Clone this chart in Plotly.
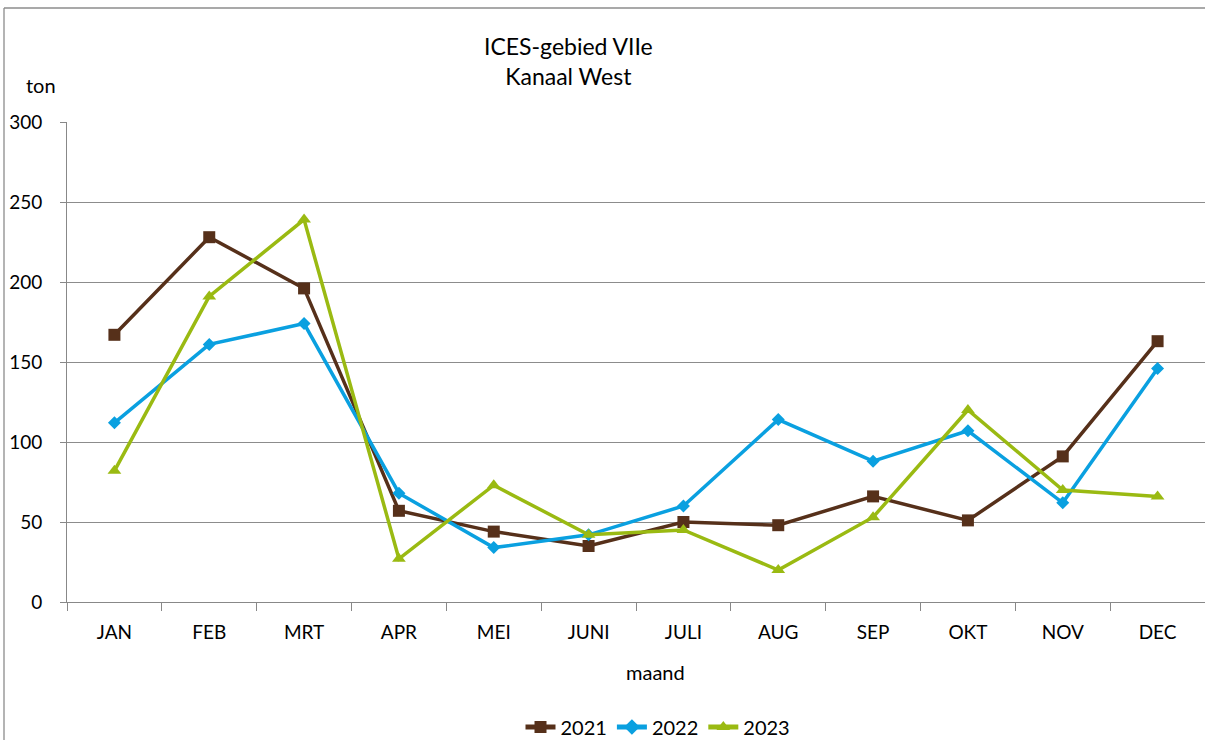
import plotly.graph_objects as go

months = ["JAN", "FEB", "MRT", "APR", "MEI", "JUNI", "JULI", "AUG", "SEP", "OKT", "NOV", "DEC"]
v2021 = [167, 228, 196, 57, 44, 35, 50, 48, 66, 51, 91, 163]
v2022 = [112, 161, 174, 68, 34, 42, 60, 114, 88, 107, 62, 146]
v2023 = [82, 191, 239, 27, 73, 42, 45, 20, 53, 120, 70, 66]
y_ticks = [0, 50, 100, 150, 200, 250, 300]

FONT = "Lato"
W, H = 1205, 740
pl, pr, pt, pb = 67, 0, 122, 138
pw, ph = W - pl - pr, H - pt - pb


def px(x):
    return (x - pl) / pw


def py(y):
    return (pt + ph - y) / ph


fig = go.Figure()
series = [
    ("2021", v2021, "#56301a", "square", 12),
    ("2022", v2022, "#0aa0e0", "diamond", 10),
    ("2023", v2023, "#9aba12", "triangle-up", 12),
]
for name, vals, col, sym, sz in series:
    fig.add_trace(go.Scatter(
        x=months, y=vals, name=name, mode="lines+markers",
        line=dict(color=col, width=3.5),
        marker=dict(symbol=sym, size=sz, color=col),
    ))

fig.update_layout(
    width=W, height=H,
    margin=dict(l=pl, r=pr, t=pt, b=pb, autoexpand=False),
    paper_bgcolor="white", plot_bgcolor="white",
    font=dict(family=FONT, size=19, color="#000000"),
    showlegend=True,
    legend=dict(orientation="h", x=px(658), xanchor="center", y=py(727), yanchor="middle",
                font=dict(size=20), itemwidth=30, tracegroupgap=0, itemsizing="constant"),
    xaxis=dict(
        type="category", range=[-0.5, 11.5], showgrid=False, showline=True,
        linecolor="#888888", linewidth=1,
        ticks="outside", tickson="boundaries", ticklen=8, tickcolor="#888888",
        ticklabelstandoff=13, tickfont=dict(size=19), zeroline=False,
    ),
    yaxis=dict(
        range=[0, 300], tickvals=y_ticks, showgrid=True, gridcolor="#8c8c8c", gridwidth=1.3,
        showline=True, linecolor="#888888", linewidth=1, ticks="outside", ticklen=6,
        tickcolor="#888888", ticklabelstandoff=14, tickfont=dict(size=19), zeroline=False,
    ),
    annotations=[
        dict(text="ICES-gebied VIIe<br>Kanaal West", x=px(568), y=py(61), xref="paper", yref="paper",
             showarrow=False, font=dict(size=23), align="center",
             xanchor="center", yanchor="middle"),
        dict(text="ton", x=px(41), y=py(85), xref="paper", yref="paper", showarrow=False,
             font=dict(size=20), xanchor="center", yanchor="middle"),
        dict(text="maand", x=px(655), y=py(672), xref="paper", yref="paper", showarrow=False,
             font=dict(size=20), xanchor="center", yanchor="middle"),
    ],
)

# outer chart border (top and left edges visible in the reference)
fig.add_shape(type="line", xref="paper", yref="paper",
              x0=px(4), x1=px(1205), y0=py(8), y1=py(8),
              line=dict(color="#8c8c8c", width=1.3), layer="below")
fig.add_shape(type="line", xref="paper", yref="paper",
              x0=px(4), x1=px(4), y0=py(8), y1=py(740),
              line=dict(color="#8c8c8c", width=1.3), layer="below")

fig.write_html(
    "out.html",
    config={"displayModeBar": False},
    post_script="document.body.style.margin='0';document.body.style.overflow='hidden';",
)
